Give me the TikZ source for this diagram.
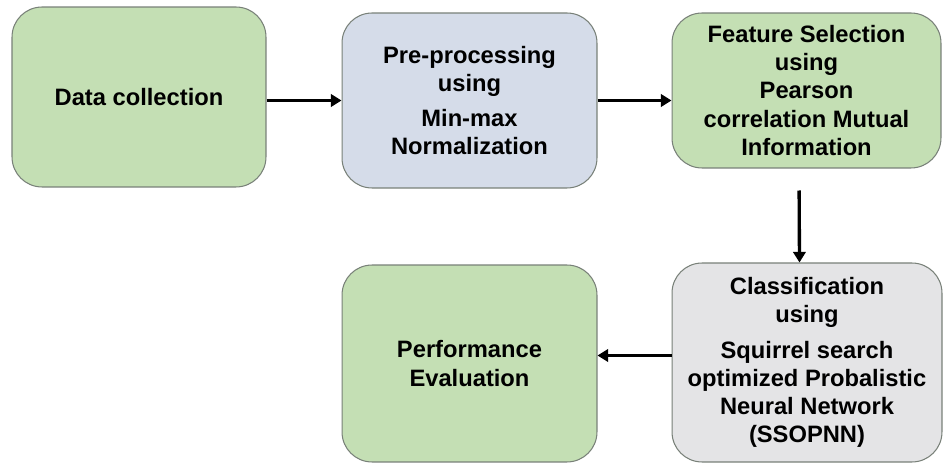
\documentclass[tikz,border=0pt]{standalone}
\usepackage{fontspec}
\setmainfont{Liberation Sans}
\usetikzlibrary{arrows.meta}

\definecolor{stagegreen}{RGB}{196,223,180}
\definecolor{stageblue}{RGB}{213,220,233}
\definecolor{stagegrey}{RGB}{228,228,230}
\definecolor{stageline}{RGB}{120,128,120}

\begin{document}
\begin{tikzpicture}
  [x=0.02cm,y=-0.02cm,
   every node/.style={draw=stageline,line width=0.6pt,rounded corners=0.6cm,align=center,
     inner sep=1pt,font=\fontsize{13.5}{16}\selectfont\bfseries},
   flow/.style={-{Triangle[length=6pt,width=7pt]},line width=1.9pt}]
  \useasboundingbox (0,0) rectangle (944,465);

  \node[fill=stagegreen,minimum width=5.08cm,minimum height=3.6cm] (dc) at (139,97) {Data collection};
  \node[fill=stageblue,minimum width=5.1cm,minimum height=3.5cm] (pre) at (469.5,100.5)
    {Pre-processing\\using\\[4pt]Min-max\\Normalization};
  \node[fill=stagegreen,minimum width=5.38cm,minimum height=3.1cm] (fs) at (806.5,90.5)
    {Feature Selection\\using\\Pearson\\correlation Mutual\\Information};
  \node[fill=stagegrey,minimum width=5.4cm,minimum height=3.98cm] (cls) at (807,362.5)
    {Classification\\using\\[4pt]Squirrel search\\optimized Probalistic\\Neural Network\\(SSOPNN)};
  \node[fill=stagegreen,minimum width=5.1cm,minimum height=3.94cm] (perf) at (469.5,363.5)
    {Performance\\Evaluation};

  \draw[flow] (dc.east |- pre.west) -- (pre.west);
  \draw[flow] (pre.east) -- (pre.east -| fs.west);
  \draw[flow,shorten <=0.44cm] ([xshift=-0.15cm]fs.south) -- ([xshift=-0.15cm]cls.north);
  \draw[flow,line width=1.4pt] ([yshift=0.14cm]cls.west) -- ([yshift=0.14cm]cls.west -| perf.east);

\end{tikzpicture}
\end{document}
